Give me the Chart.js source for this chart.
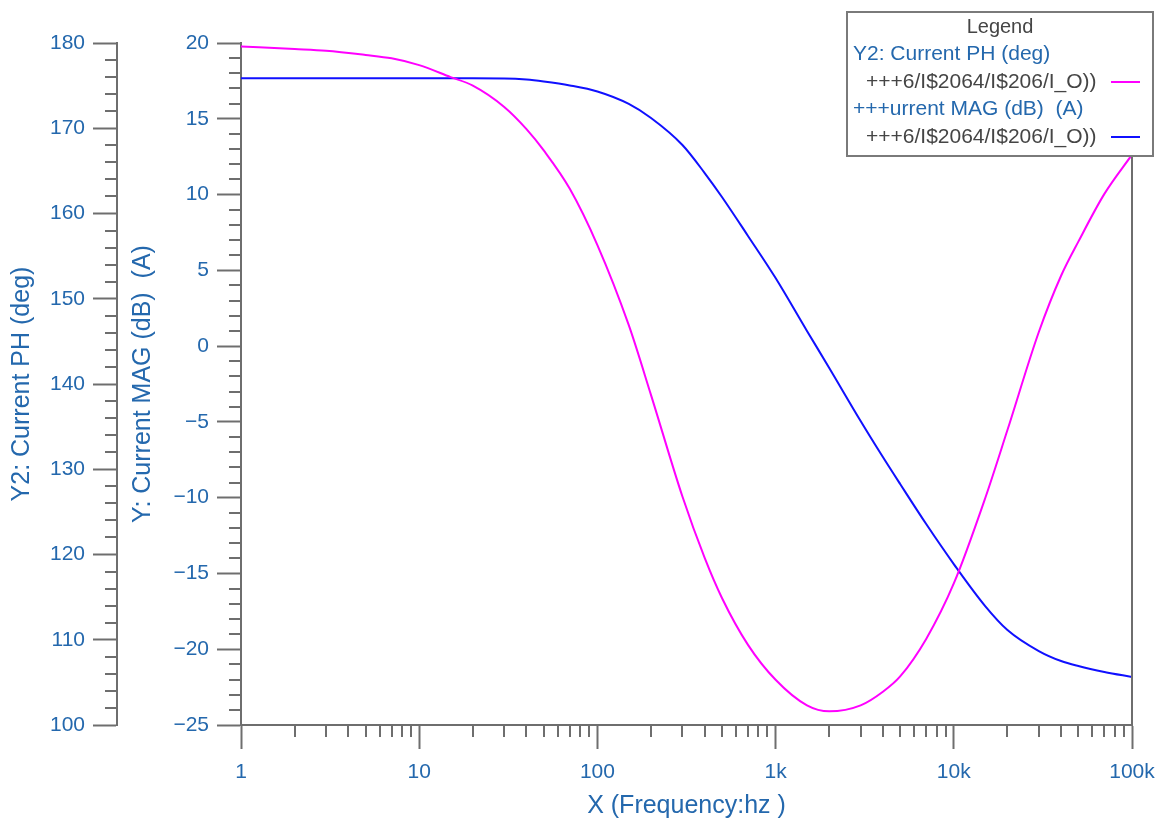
<!DOCTYPE html>
<html>
<head>
<meta charset="utf-8">
<title>Current PH / MAG</title>
<script src="https://cdn.jsdelivr.net/npm/chart.js@4.4.1/dist/chart.umd.min.js"></script>
<style>
  html, body { margin: 0; padding: 0; background: #fff; }
  #wrap { width: 1158px; height: 821px; }
</style>
</head>
<body>
<div id="wrap"><canvas id="bode"></canvas></div>
<script>
// sweep points (Hz)
const freqHz = [1, 2, 3, 5, 7, 10, 15, 20, 30, 40, 50, 70, 100, 150, 200, 300, 400, 500, 700,
  1000, 1500, 2000, 3000, 4000, 5000, 7000, 10000, 15000, 20000, 30000, 40000, 50000, 70000, 100000];

// current phase (deg), plotted on Y2
const phaseDeg = [179.6, 179.3, 179.1, 178.6, 178.2, 177.4, 176.0, 175.0, 172.5, 169.9, 167.4, 162.9,
  156.3, 146.9, 138.7, 126.8, 119.6, 114.9, 109.4, 105.3, 102.3, 101.6, 102.3, 103.9, 105.7, 110.1,
  116.6, 126.6, 134.6, 146.1, 152.7, 156.7, 162.3, 166.9];

// current magnitude (dB), plotted on Y
const magDb = [17.67, 17.67, 17.67, 17.67, 17.67, 17.67, 17.67, 17.67, 17.66, 17.59, 17.46, 17.20,
  16.80, 15.98, 15.05, 13.27, 11.42, 9.84, 7.27, 4.49, 1.00, -1.44, -4.94, -7.32, -9.10, -11.74,
  -14.38, -17.15, -18.73, -20.12, -20.78, -21.11, -21.50, -21.83];

// decade ticks on the frequency axis
const xTickValues = [1, 10, 100, 1000, 10000, 100000];
const xTickLabels = ['1', '10', '100', '1k', '10k', '100k'];

const seriesNames = ['+++6/I$2064/I$206/I_O))', '+++6/I$2064/I$206/I_O))'];
const legendGroups = ['Y2: Current PH (deg)', '+++urrent MAG (dB)  (A)'];

const AXIS_GRAY = '#6e6e6e';
const TEXT_BLUE = '#2468ad';
const TEXT_DARK = '#454545';
const FONT = '"Liberation Sans", Arial, sans-serif';

const tickFont = { family: FONT, size: 21 };
const titleFont = { family: FONT, size: 25 };

const axisGrid = {
    display: true,
    drawOnChartArea: false,
    drawTicks: true,
    tickLength: 24,
    tickWidth: 2,
    tickColor: AXIS_GRAY
};
const axisBorder = { display: true, color: AXIS_GRAY, width: 2 };

// negative values get a proper minus sign
const signed = (v) => (v < 0 ? '\u2212' + Math.abs(v) : String(v));

// short ticks between the labelled ones, plus the right-hand frame line
const minorTicks = {
    id: 'minorTicks',
    afterDatasetsDraw(chart) {
        const { ctx, chartArea, scales } = chart;
        const len = 12;
        ctx.save();
        ctx.strokeStyle = AXIS_GRAY;
        ctx.lineWidth = 2;
        ctx.beginPath();

        for (let v = -25; v <= 20; v += 1) {
            if (v % 5 === 0) continue;
            const y = Math.round(scales.y.getPixelForValue(v));
            ctx.moveTo(scales.y.right - len, y);
            ctx.lineTo(scales.y.right, y);
        }
        for (let v = 100; v <= 180; v += 2) {
            if (v % 10 === 0) continue;
            const y = Math.round(scales.yPh.getPixelForValue(v));
            ctx.moveTo(scales.yPh.right - len, y);
            ctx.lineTo(scales.yPh.right, y);
        }
        for (let d = 1; d < 100000; d *= 10) {
            for (let m = 2; m <= 9; m++) {
                const x = Math.round(scales.x.getPixelForValue(d * m));
                ctx.moveTo(x, chartArea.bottom);
                ctx.lineTo(x, chartArea.bottom + len);
            }
        }
        // right frame
        ctx.moveTo(chartArea.right, chartArea.top);
        ctx.lineTo(chartArea.right, chartArea.bottom);
        ctx.stroke();
        ctx.restore();
    }
};

// boxed legend in the top-right corner
const boxLegend = {
    id: 'boxLegend',
    afterDraw(chart) {
        const ctx = chart.ctx;
        const w = 306, h = 144;
        const x0 = chart.width - 5 - w, y0 = 12;
        const row = 27.5;

        ctx.save();
        ctx.fillStyle = '#fff';
        ctx.fillRect(x0, y0, w, h);
        ctx.strokeStyle = '#7a7a7a';
        ctx.lineWidth = 2;
        ctx.strokeRect(x0, y0, w, h);

        ctx.textBaseline = 'middle';
        ctx.textAlign = 'center';
        ctx.fillStyle = TEXT_DARK;
        ctx.font = '20px ' + FONT;
        ctx.fillText('Legend', x0 + w / 2, y0 + 15);

        ctx.textAlign = 'left';
        ctx.font = '21px ' + FONT;
        let y = y0 + 42.5;
        chart.data.datasets.forEach((ds, i) => {
            ctx.fillStyle = TEXT_BLUE;
            ctx.fillText(legendGroups[i], x0 + 6, y);
            y += row;
            ctx.fillStyle = TEXT_DARK;
            ctx.fillText(ds.label, x0 + 19, y);
            ctx.strokeStyle = ds.borderColor;
            ctx.lineWidth = 2;
            ctx.beginPath();
            ctx.moveTo(x0 + w - 42, Math.round(y));
            ctx.lineTo(x0 + w - 13, Math.round(y));
            ctx.stroke();
            y += row;
        });
        ctx.restore();
    }
};

const phasePoints = freqHz.map((f, i) => ({ x: f, y: phaseDeg[i] }));
const magPoints = freqHz.map((f, i) => ({ x: f, y: magDb[i] }));

new Chart(document.getElementById('bode'), {
    type: 'line',
    data: {
        datasets: [
            {
                label: seriesNames[0],
                data: phasePoints,
                yAxisID: 'yPh',
                borderColor: '#ff00ff',
                borderWidth: 2,
                pointRadius: 0,
                cubicInterpolationMode: 'monotone'
            },
            {
                label: seriesNames[1],
                data: magPoints,
                yAxisID: 'y',
                borderColor: '#1010ff',
                borderWidth: 2,
                pointRadius: 0,
                cubicInterpolationMode: 'monotone'
            }
        ]
    },
    options: {
        responsive: true,
        maintainAspectRatio: false,
        animation: false,
        layout: { padding: { top: 43, right: 26, left: 0, bottom: 0 } },
        plugins: {
            legend: { display: false },
            tooltip: { enabled: false }
        },
        scales: {
            x: {
                type: 'logarithmic',
                min: 1,
                max: 100000,
                afterBuildTicks: (scale) => {
                    scale.ticks = xTickValues.map(v => ({ value: v, major: true }));
                },
                afterFit: (scale) => {
                    scale.height = 96;
                    // the end labels may hang past the plot edges
                    scale.paddingLeft = 0;
                    scale.paddingRight = 0;
                },
                grid: axisGrid,
                border: axisBorder,
                ticks: {
                    color: TEXT_BLUE,
                    font: tickFont,
                    padding: 11,
                    autoSkip: false,
                    maxRotation: 0,
                    callback: (val, i) => xTickLabels[i]
                },
                title: {
                    display: true,
                    text: 'X (Frequency:hz )',
                    color: TEXT_BLUE,
                    font: titleFont,
                    padding: { top: 0, bottom: 0 }
                }
            },
            y: {
                type: 'linear',
                position: 'left',
                weight: 0,
                min: -25,
                max: 20,
                afterFit: (scale) => { scale.width = 124; },
                grid: axisGrid,
                border: axisBorder,
                ticks: {
                    stepSize: 5,
                    color: TEXT_BLUE,
                    font: tickFont,
                    padding: 8,
                    autoSkip: false,
                    callback: signed
                },
                title: {
                    display: true,
                    text: 'Y: Current MAG (dB)  (A)',
                    color: TEXT_BLUE,
                    font: titleFont,
                    padding: { top: 11, bottom: 0 }
                }
            },
            yPh: {
                type: 'linear',
                position: 'left',
                weight: 1,
                min: 100,
                max: 180,
                afterFit: (scale) => { scale.width = 117; },
                grid: axisGrid,
                border: axisBorder,
                ticks: { stepSize: 10, color: TEXT_BLUE, font: tickFont, padding: 8, autoSkip: false },
                title: {
                    display: true,
                    text: 'Y2: Current PH (deg)',
                    color: TEXT_BLUE,
                    font: titleFont,
                    padding: { top: 7, bottom: 0 }
                }
            }
        }
    },
    plugins: [minorTicks, boxLegend]
});
</script>
</body>
</html>
